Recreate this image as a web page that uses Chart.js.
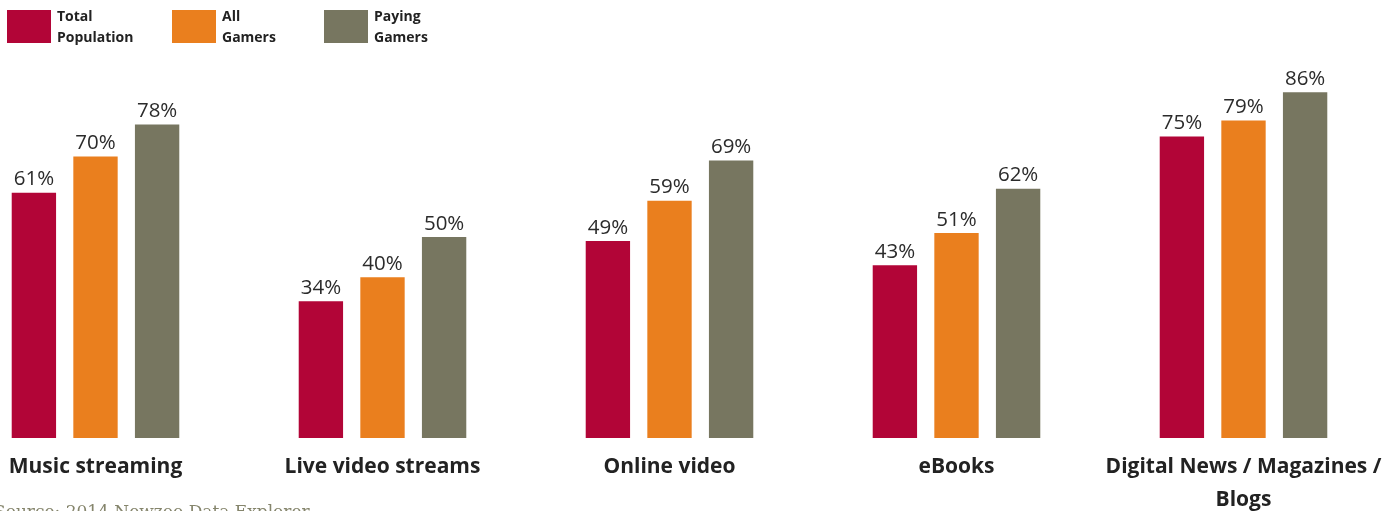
<!DOCTYPE html>
<html>
<head>
<meta charset="utf-8">
<script src="https://cdn.jsdelivr.net/npm/chart.js@4/dist/chart.umd.min.js"></script>
<style>
  html, body { margin: 0; padding: 0; background: #fff; overflow: hidden; }
  body { width: 1398px; height: 511px; position: relative; }
  #wrap { position: absolute; left: -48px; top: 0; width: 1435px; height: 511px; }
  .legend { position: absolute; top: 10px; display: flex; align-items: flex-start; font-family: "Open Sans", sans-serif; font-weight: 700; font-size: 14px; line-height: 21px; color: #222; }
  .legend span.box { display: inline-block; width: 44px; height: 33px; margin-right: 6px; }
  .legend span.txt { margin-top: -5px; }
  #source { position: absolute; left: -6px; top: 501px; font-family: "DejaVu Serif", serif; font-size: 17px; color: #85856c; white-space: nowrap; }
</style>
</head>
<body>
<div id="wrap"><canvas id="grafico"></canvas></div>
<div id="legenda"></div>
<div id="source">Source: 2014 Newzoo Data Explorer</div>
<script>
const categorias = ['Music streaming', 'Live video streams', 'Online video', 'eBooks', ['Digital News / Magazines /', 'Blogs']];
const series = ['Total Population', 'All Gamers', 'Paying Gamers'];
const legendaLinhas = [['Total', 'Population'], ['All', 'Gamers'], ['Paying', 'Gamers']];
const totalPopulation = [61, 34, 49, 43, 75];
const allGamers = [70, 40, 59, 51, 79];
const payingGamers = [78, 50, 69, 62, 86];
const cores = ['#b20537', '#ea7f1e', '#777660'];
const legendaX = [7, 172, 324];

// legenda em HTML (duas linhas por item)
const legenda = document.getElementById('legenda');
legendaLinhas.forEach((linhas, i) => {
    const item = document.createElement('div');
    item.className = 'legend';
    item.style.left = legendaX[i] + 'px';
    item.innerHTML = '<span class="box" style="background:' + cores[i] + '"></span><span class="txt">' + linhas.join('<br>') + '</span>';
    legenda.appendChild(item);
});

// escreve o valor acima de cada barra
const rotulos = {
    id: 'rotulos',
    afterDatasetsDraw(chart) {
        const ctx = chart.ctx;
        ctx.save();
        ctx.font = '20.5px "Open Sans", sans-serif';
        ctx.fillStyle = '#2b2b2b';
        ctx.textAlign = 'center';
        ctx.textBaseline = 'bottom';
        chart.data.datasets.forEach((ds, i) => {
            chart.getDatasetMeta(i).data.forEach((bar, j) => {
                ctx.fillText(ds.data[j] + '%', bar.x, bar.y - 3);
            });
        });
        ctx.restore();
    }
};

const valores = [totalPopulation, allGamers, payingGamers];
new Chart(document.getElementById('grafico').getContext('2d'), {
    type: 'bar',
    data: {
        labels: categorias,
        datasets: series.map((nome, i) => ({
            label: nome,
            data: valores[i],
            backgroundColor: cores[i],
            categoryPercentage: 0.644,
            barPercentage: 0.72
        }))
    },
    options: {
        responsive: true,
        maintainAspectRatio: false,
        animation: false,
        layout: { padding: { top: 36, left: 0, right: 0, bottom: 0 } },
        plugins: { legend: { display: false }, tooltip: { enabled: false } },
        scales: {
            x: {
                grid: { display: false },
                border: { display: false },
                afterFit: (scale) => { scale.height = 73; },
                ticks: {
                    padding: 5,
                    color: '#222',
                    maxRotation: 0,
                    autoSkip: false,
                    font: { family: '"Open Sans", sans-serif', size: 21, weight: 'bold', lineHeight: 1.55 }
                }
            },
            y: {
                display: false,
                min: 0,
                max: 100
            }
        }
    },
    plugins: [rotulos]
});
</script>
</body>
</html>
